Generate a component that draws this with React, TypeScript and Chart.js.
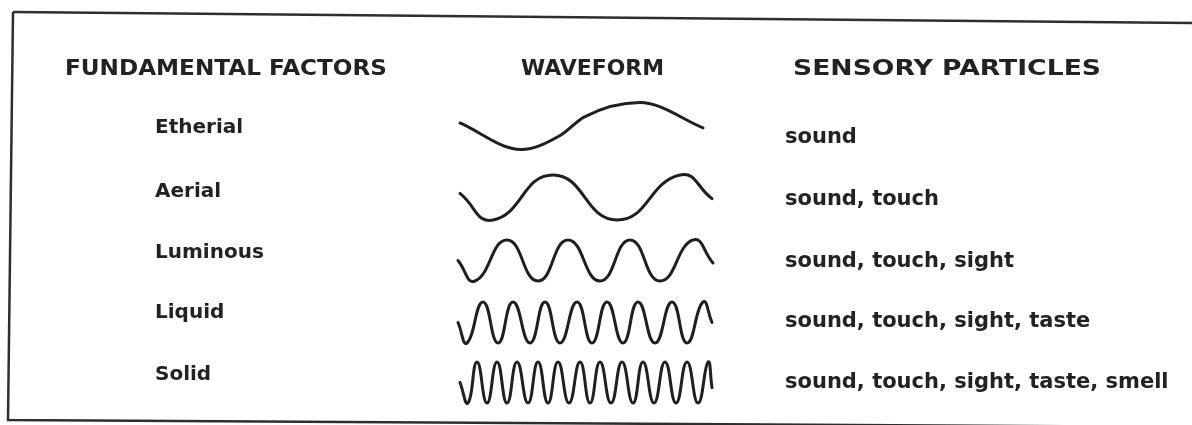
import React, { useEffect, useRef } from 'react';
import { Chart, registerables } from 'chart.js';

Chart.register(...registerables);

// ---------- content ----------
const headers = ['FUNDAMENTAL FACTORS', 'WAVEFORM', 'SENSORY PARTICLES'];
const factors = ['Etherial', 'Aerial', 'Luminous', 'Liquid', 'Solid'];
const particles = [
  'sound',
  'sound, touch',
  'sound, touch, sight',
  'sound, touch, sight, taste',
  'sound, touch, sight, taste, smell',
];

// ---------- waveform key points (x along the waveform column, level -1..1) ----------
const etherialX = [460, 521, 561, 584, 640, 703];
const etherialLevel = [0.13, -1, -0.38, 0.38, 1, -0.08];

const aerialX = [460, 493, 553, 617, 680, 712];
const aerialLevel = [0.18, -1, 1, -1, 1, -0.05];

const luminousX = [458, 475, 507, 538, 568, 600, 630, 660, 693, 713];
const luminousLevel = [0, -1, 1, -1, 1, -1, 1, -1, 1, -0.12];

const liquidX = [458, 467, 483, 498, 513, 530, 545, 560, 577, 592, 607, 623, 638, 655, 672, 687, 703, 712];
const liquidLevel = [0, -1, 1, -1, 1, -1, 1, -1, 1, -1, 1, -1, 1, -1, 1, -1, 1, 0];

const solidX = [460, 468, 477, 487, 497, 507, 517, 528, 538, 548, 558, 569, 580, 590, 600, 611, 622, 633, 643, 654, 665, 676, 687, 698, 708, 712];
const solidLevel = [0, -1, 1, -1, 1, -1, 1, -1, 1, -1, 1, -1, 1, -1, 1, -1, 1, -1, 1, -1, 1, -1, 1, -1, 1, -0.25];

const waveX = [etherialX, aerialX, luminousX, liquidX, solidX];
const waveLevel = [etherialLevel, aerialLevel, luminousLevel, liquidLevel, solidLevel];

// ---------- layout ----------
const W = 1192;
const H = 425;
const rowMid = [126, 197.5, 260.5, 322.5, 382.5];
const rowAmp = [23.5, 22.5, 20.5, 20.5, 20.5];
const headerLeft = [65, 521, 793];
const headerWidth = [322, 143, 308];
const headerY = 69;
const factorLeft = 155;
const factorY = [128, 192, 253, 313, 375];
const particleLeft = 785;
const particleY = [138, 200, 262, 322, 383];
const frameTop = [[13, 12], [1192, 23]];
const frameLeftBottom = [[13, 12], [8, 420], [1192, 427]];

const INK = '#1f1f1f';

const tablePlugin = {
  id: 'tableText',
  afterDraw(chart: any) {
    const { ctx } = chart;
    const xs = chart.scales.x;
    const ys = chart.scales.y;
    const px = (v: number) => xs.getPixelForValue(v);
    const py = (v: number) => ys.getPixelForValue(v);
    ctx.save();
    // frame
    ctx.strokeStyle = '#2e2e2e';
    ctx.lineWidth = 2.5;
    ctx.beginPath();
    ctx.moveTo(px(frameTop[0][0]), py(frameTop[0][1]));
    ctx.lineTo(px(frameTop[1][0]), py(frameTop[1][1]));
    ctx.stroke();
    ctx.beginPath();
    frameLeftBottom.forEach((p, i) => {
      if (i === 0) ctx.moveTo(px(p[0]), py(p[1]));
      else ctx.lineTo(px(p[0]), py(p[1]));
    });
    ctx.stroke();
    // text
    ctx.fillStyle = '#222';
    ctx.textBaseline = 'middle';
    ctx.textAlign = 'left';
    ctx.font = 'bold 22px "DejaVu Sans"';
    headers.forEach((t, i) => {
      const natural = ctx.measureText(t).width;
      const x0 = px(headerLeft[i]);
      const target = px(headerLeft[i] + headerWidth[i]) - x0;
      ctx.save();
      ctx.translate(x0, py(headerY));
      ctx.scale(target / natural, 1);
      ctx.fillText(t, 0, 0);
      ctx.restore();
    });
    ctx.font = 'bold 20px "DejaVu Sans"';
    factors.forEach((t, i) => ctx.fillText(t, px(factorLeft), py(factorY[i])));
    ctx.font = 'bold 21px "DejaVu Sans"';
    particles.forEach((t, i) => ctx.fillText(t, px(particleLeft), py(particleY[i])));
    ctx.restore();
  },
};

export default function App() {
  const canvasRef = useRef<HTMLCanvasElement | null>(null);

  useEffect(() => {
    document.body.style.margin = '0';
    document.body.style.background = '#ffffff';
    const canvas = canvasRef.current;
    if (!canvas) return;
    const datasets = factors.map((name, r) => ({
      label: name,
      data: waveX[r].map((x, i) => ({ x, y: rowMid[r] - waveLevel[r][i] * rowAmp[r] })),
      borderColor: INK,
      borderWidth: 3,
      borderCapStyle: 'round' as const,
      borderJoinStyle: 'round' as const,
      pointRadius: 0,
      tension: 0.5,
      cubicInterpolationMode: (r === 0 ? 'monotone' : 'default') as any,
      fill: false,
      clip: false as any,
    }));
    const chart = new Chart(canvas, {
      type: 'line',
      data: { datasets },
      options: {
        animation: false,
        responsive: false,
        maintainAspectRatio: false,
        layout: { padding: 0 },
        events: [],
        plugins: { legend: { display: false }, tooltip: { enabled: false } },
        scales: {
          x: { type: 'linear', min: 0, max: W, display: false },
          y: { type: 'linear', min: 0, max: H, reverse: true, display: false },
        },
      },
      plugins: [tablePlugin],
    });
    return () => chart.destroy();
  }, []);

  return (
    <div style={{ position: 'absolute', left: 0, top: 0, width: W, height: H, background: '#fff' }}>
      <canvas ref={canvasRef} width={W} height={H} style={{ width: W, height: H, display: 'block' }} />
    </div>
  );
}
